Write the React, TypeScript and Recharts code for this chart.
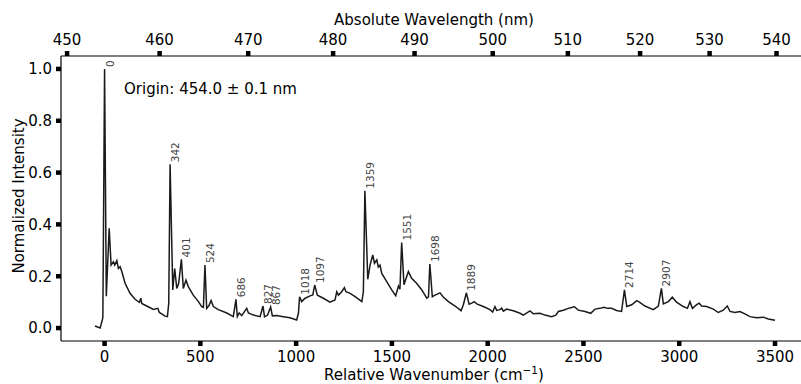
import React from 'react';
import { ComposedChart, Line, Scatter, XAxis, YAxis } from 'recharts';

// Relative wavenumber (cm^-1)
const wavenumbers = [
  -50, -23, -9, 0, 9, 24, 34, 46, 53, 64, 72, 81, 90, 107, 133, 159, 182, 189, 194, 220,
  255, 278, 286, 316, 328, 335, 342, 356, 366, 377, 387, 401, 411, 425, 437, 463, 490, 507, 516, 524,
  533, 545, 556, 568, 594, 638, 672, 686, 693, 703, 716, 742, 751, 777, 812, 827, 835, 851, 867, 876,
  899, 933, 968, 1003, 1012, 1018, 1029, 1047, 1073, 1087, 1097, 1111, 1142, 1177, 1203, 1212, 1221, 1238, 1252, 1260,
  1282, 1308, 1343, 1351, 1359, 1374, 1386, 1400, 1409, 1421, 1429, 1438, 1447, 1473, 1499, 1520, 1534, 1542, 1551, 1563,
  1586, 1603, 1630, 1656, 1682, 1691, 1698, 1711, 1725, 1751, 1768, 1795, 1830, 1861, 1873, 1889, 1903, 1917, 1930, 1943,
  1977, 2012, 2026, 2038, 2047, 2064, 2073, 2082, 2099, 2134, 2169, 2186, 2221, 2238, 2273, 2299, 2334, 2356, 2369, 2395,
  2421, 2438, 2451, 2473, 2508, 2538, 2560, 2586, 2607, 2625, 2647, 2673, 2699, 2714, 2726, 2752, 2778, 2792, 2821, 2865,
  2891, 2907, 2917, 2943, 2964, 2986, 3021, 3043, 3056, 3069, 3091, 3104, 3117, 3143, 3178, 3204, 3230, 3251, 3265, 3291,
  3317, 3343, 3369, 3404, 3439, 3465, 3500,
];

// Normalized intensity
const intensities = [
  0.008, 0.0, 0.04, 1.0, 0.123, 0.385, 0.243, 0.256, 0.243, 0.26, 0.23, 0.237, 0.218, 0.173, 0.134, 0.111, 0.099, 0.115, 0.095, 0.085,
  0.072, 0.076, 0.06, 0.046, 0.044, 0.095, 0.632, 0.147, 0.23, 0.153, 0.173, 0.265, 0.153, 0.185, 0.16, 0.127, 0.102, 0.083, 0.08, 0.243,
  0.076, 0.087, 0.106, 0.083, 0.071, 0.058, 0.044, 0.111, 0.044, 0.058, 0.048, 0.076, 0.058, 0.05, 0.044, 0.085, 0.043, 0.05, 0.081, 0.047,
  0.048, 0.044, 0.04, 0.031, 0.057, 0.121, 0.102, 0.115, 0.124, 0.128, 0.166, 0.127, 0.115, 0.1, 0.108, 0.14, 0.127, 0.14, 0.156, 0.14,
  0.134, 0.121, 0.102, 0.14, 0.53, 0.188, 0.243, 0.282, 0.25, 0.263, 0.235, 0.243, 0.211, 0.179, 0.147, 0.125, 0.162, 0.15, 0.33, 0.167,
  0.218, 0.192, 0.172, 0.147, 0.115, 0.12, 0.247, 0.121, 0.127, 0.136, 0.12, 0.102, 0.085, 0.067, 0.09, 0.136, 0.092, 0.096, 0.102, 0.093,
  0.083, 0.071, 0.062, 0.083, 0.068, 0.071, 0.077, 0.065, 0.073, 0.067, 0.057, 0.05, 0.066, 0.055, 0.057, 0.05, 0.044, 0.05, 0.064, 0.069,
  0.076, 0.079, 0.083, 0.069, 0.064, 0.057, 0.073, 0.076, 0.08, 0.076, 0.076, 0.068, 0.064, 0.147, 0.083, 0.09, 0.106, 0.1, 0.085, 0.071,
  0.085, 0.153, 0.093, 0.102, 0.119, 0.1, 0.083, 0.076, 0.102, 0.076, 0.09, 0.096, 0.085, 0.083, 0.073, 0.06, 0.069, 0.085, 0.064, 0.06,
  0.064, 0.055, 0.044, 0.04, 0.042, 0.035, 0.03,
];

// Labelled peaks
const peakPositions = [0, 342, 401, 524, 686, 827, 867, 1018, 1097, 1359, 1551, 1698, 1889, 2714, 2907];
const peakHeights = [1.0, 0.632, 0.265, 0.243, 0.111, 0.085, 0.081, 0.121, 0.166, 0.53, 0.33, 0.247, 0.136, 0.147, 0.153];
const peakLabels = ['0', '342', '401', '524', '686', '827', '867', '1018', '1097', '1359', '1551', '1698', '1889', '2714', '2907'];

const bottomTicks = [0, 500, 1000, 1500, 2000, 2500, 3000, 3500];
const wavelengthTicks = [450, 460, 470, 480, 490, 500, 510, 520, 530, 540];
const yTicks = [0, 0.2, 0.4, 0.6, 0.8, 1.0];
const originNm = 454.0;

const xDomain: [number, number] = [-227.5, 3677.5];
const yDomain: [number, number] = [-0.05, 1.05];

const spectrum = wavenumbers.map((v, i) => ({ v, y: intensities[i] }));
const peaks = peakPositions.map((v, i) => ({ v, y: peakHeights[i], label: peakLabels[i] }));

const toWavenumber = (nm: number) => 1e7 / originNm - 1e7 / nm;
const topTicks = wavelengthTicks.map(toWavenumber);
const toWavelength = (v: number) => String(Math.round(1e7 / (1e7 / originNm - v)));

const FONT = 'DejaVu Sans, Verdana, sans-serif';
const tickStyle = { fill: '#000', fontSize: 15, fontFamily: FONT };
const tickLine = { stroke: '#000', strokeWidth: 4.5 };
const axisLine = { stroke: '#000', strokeWidth: 1.2 };

const PeakLabel = (props: any) => {
  const { cx, cy, payload } = props;
  if (cx == null || cy == null) return <g />;
  return (
    <text
      transform={`translate(${cx + 9},${cy - 2}) rotate(-90)`}
      fontSize={10.5}
      fontFamily={FONT}
      fill="#444"
      textAnchor="start"
    >
      {payload.label}
    </text>
  );
};

export default function App() {
  return (
    <div style={{ position: 'absolute', left: 0, top: 0, width: 801, height: 384, overflow: 'hidden', background: '#fff' }}>
      <ComposedChart
        width={830}
        height={384}
        data={spectrum}
        margin={{ top: 6, right: 21, bottom: 0, left: 11 }}
      >
        <XAxis
          xAxisId="bottom"
          dataKey="v"
          type="number"
          domain={xDomain}
          allowDataOverflow
          ticks={bottomTicks}
          interval={0}
          orientation="bottom"
          height={43}
          tick={tickStyle}
          tickLine={tickLine}
          axisLine={axisLine}
          tickSize={5}
          tickMargin={5}
        />
        <XAxis
          xAxisId="top"
          dataKey="v"
          type="number"
          domain={xDomain}
          allowDataOverflow
          ticks={topTicks}
          interval={0}
          orientation="top"
          height={50}
          tickFormatter={toWavelength}
          tick={tickStyle}
          tickLine={tickLine}
          axisLine={axisLine}
          tickSize={5}
          tickMargin={6}
        />
        <YAxis
          yAxisId="left"
          type="number"
          domain={yDomain}
          allowDataOverflow
          ticks={yTicks}
          interval={0}
          width={50}
          tickFormatter={(t: number) => t.toFixed(1)}
          tick={tickStyle}
          tickLine={tickLine}
          axisLine={axisLine}
          tickSize={5}
          tickMargin={4}
        />
        <Line
          xAxisId="top"
          yAxisId="left"
          dataKey="y"
          stroke="none"
          dot={false}
          activeDot={false}
          isAnimationActive={false}
          legendType="none"
        />
        <Line
          xAxisId="bottom"
          yAxisId="left"
          type="linear"
          dataKey="y"
          stroke="#1a1a1a"
          strokeWidth={1.5}
          dot={false}
          activeDot={false}
          isAnimationActive={false}
        />
        <Scatter
          xAxisId="bottom"
          yAxisId="left"
          data={peaks}
          dataKey="y"
          shape={<PeakLabel />}
          isAnimationActive={false}
        />
      </ComposedChart>
      <svg
        width={801}
        height={384}
        style={{ position: 'absolute', left: 0, top: 0, pointerEvents: 'none' }}
      >
        <text x={434} y={25} textAnchor="middle" fontSize={15} fontFamily={FONT} fill="#000">
          Absolute Wavelength (nm)
        </text>
        <text x={434} y={380} textAnchor="middle" fontSize={15} fontFamily={FONT} fill="#000">
          Relative Wavenumber (cm
          <tspan fontSize={10.5} dy={-6}>−1</tspan>
          <tspan dy={6}>)</tspan>
        </text>
        <text
          transform="translate(24,196) rotate(-90)"
          textAnchor="middle"
          fontSize={15}
          fontFamily={FONT}
          fill="#000"
        >
          Normalized Intensity
        </text>
        <text x={124} y={94} fontSize={15} fontFamily={FONT} fill="#000">
          Origin: 454.0 ± 0.1 nm
        </text>
      </svg>
    </div>
  );
}
